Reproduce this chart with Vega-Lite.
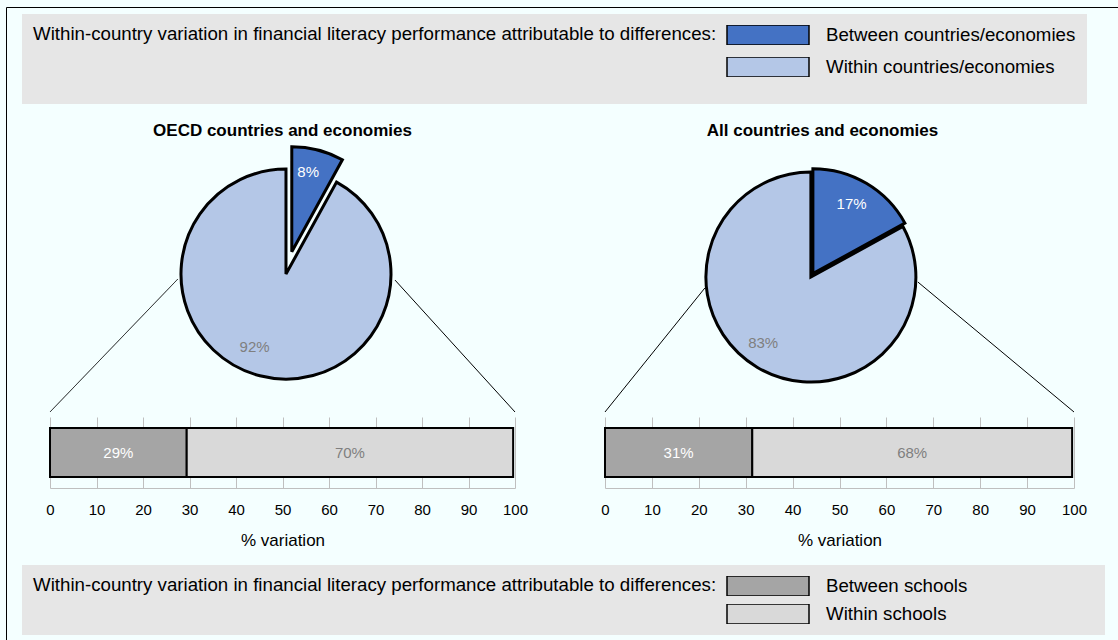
{
  "$schema": "https://vega.github.io/schema/vega-lite/v6.json",
  "background": "#F4FFFF",
  "padding": {"left": 5, "top": 6, "right": 0, "bottom": 0},
  "autosize": {"type": "pad"},
  "bounds": "flush",
  "columns": 2,
  "spacing": {"row": 5, "column": 90},
  "datasets": {
    "pies": [
      {"panel": "OECD", "group": "Between countries/economies", "share": 0.08},
      {"panel": "OECD", "group": "Within countries/economies", "share": 0.92},
      {"panel": "All", "group": "Between countries/economies", "share": 0.17},
      {"panel": "All", "group": "Within countries/economies", "share": 0.83}
    ],
    "bars": [
      {"panel": "OECD", "group": "Between schools", "share": 0.294},
      {"panel": "OECD", "group": "Within schools", "share": 0.702},
      {"panel": "All", "group": "Between schools", "share": 0.314},
      {"panel": "All", "group": "Within schools", "share": 0.682}
    ]
  },
  "concat": [
    {
      "width": 465,
      "height": 272,
      "title": {"text": "OECD countries and economies", "fontSize": 17, "fontWeight": "bold", "color": "black", "baseline": "bottom", "offset": -17, "anchor": "middle", "font": "Liberation Sans"},
      "data": {"name": "pies"},
      "layer": [
        {
          "data": {"values": [{}]},
          "mark": {"type": "rule", "color": "black", "strokeWidth": 1},
          "encoding": {
            "x": {"datum": 27.5, "type": "quantitative", "scale": {"domain": [0, 100]}, "axis": null},
            "y": {"datum": 48.9, "type": "quantitative", "scale": {"domain": [0, 100]}, "axis": null},
            "x2": {"datum": 0},
            "y2": {"datum": 0},
            "strokeDash": {"datum": "frame", "type": "nominal",
              "legend": {"orient": "none", "legendX": -44, "legendY": -133, "title": null, "padding": 700, "strokeColor": "black", "labelExpr": "''", "symbolOpacity": 0, "symbolStrokeWidth": 0,
                "encode": {"legend": {"update": {"strokeWidth": {"value": 2}}}}}}
          }
        },
        {
          "data": {"values": [{}]},
          "mark": {"type": "rule", "color": "black", "strokeWidth": 1},
          "encoding": {
            "x": {"datum": 74.2, "type": "quantitative", "axis": null},
            "y": {"datum": 48.5, "type": "quantitative", "axis": null},
            "x2": {"datum": 100},
            "y2": {"datum": 0}
          }
        },
        {
          "transform": [{"filter": "datum.panel === 'OECD'"}],
          "mark": {"type": "arc", "radius": 105, "stroke": "black", "strokeWidth": 3},
          "encoding": {
            "x": {"datum": 50.75, "type": "quantitative", "axis": null},
            "y": {"datum": 50.7, "type": "quantitative", "axis": null},
            "theta": {"field": "share", "type": "quantitative", "stack": true, "scale": {"domain": [0, 1]}},
            "order": {"field": "group"},
            "color": {
              "field": "group", "type": "nominal",
              "scale": {"domain": ["Between countries/economies", "Within countries/economies"], "range": ["#4472C4", "#B4C7E7"]},
              "legend": {"orient": "none", "legendX": -28, "legendY": -126, "direction": "vertical",
                "title": ["Within-country variation in financial literacy performance attributable to differences:", " "],
                "titleOrient": "left", "titleAnchor": "start", "titleBaseline": "top", "titleLineHeight": 49,
                "titleFontSize": 18.7, "titleFontWeight": "normal", "titleColor": "black", "titleLimit": 2000, "titlePadding": 9, "titleFont": "Liberation Sans",
                "labelFontSize": 18.7, "labelColor": "black", "labelLimit": 2000, "labelOffset": 16, "labelFont": "Liberation Sans",
                "symbolType": "M-1,-0.244H1V0.244H-1Z", "symbolSize": 6724, "symbolStrokeColor": "black", "symbolStrokeWidth": 1.5, "symbolOpacity": 1,
                "clipHeight": 20, "rowPadding": 12, "padding": 11, "fillColor": "#E6E6E6"}
            },
            "opacity": {"condition": {"test": "datum.group === 'Between countries/economies'", "value": 0}, "value": 1}
          }
        },
        {
          "transform": [{"filter": "datum.panel === 'OECD'"}],
          "mark": {"type": "arc", "radius": 105, "stroke": "black", "strokeWidth": 3, "xOffset": 5.8, "yOffset": -22.3},
          "encoding": {
            "x": {"datum": 50.75, "type": "quantitative", "axis": null},
            "y": {"datum": 50.7, "type": "quantitative", "axis": null},
            "theta": {"field": "share", "type": "quantitative", "stack": true},
            "order": {"field": "group"},
            "color": {"field": "group", "type": "nominal"},
            "opacity": {"condition": {"test": "datum.group === 'Between countries/economies'", "value": 1}, "value": 0}
          }
        },
        {
          "transform": [{"filter": "datum.panel === 'OECD'"}],
          "mark": {"type": "text", "radius": 82, "fontSize": 15, "dx": -11, "dy": -7, "font": "Liberation Sans"},
          "encoding": {
            "x": {"datum": 50.75, "type": "quantitative", "axis": null},
            "y": {"datum": 50.7, "type": "quantitative", "axis": null},
            "theta": {"field": "share", "type": "quantitative", "stack": true},
            "order": {"field": "group"},
            "text": {"field": "share", "format": ".0%"},
            "color": {"value": "#7F7F7F"},
            "opacity": {"condition": {"test": "datum.group === 'Between countries/economies'", "value": 0}, "value": 1}
          }
        },
        {
          "transform": [{"filter": "datum.panel === 'OECD'"}],
          "mark": {"type": "text", "radius": 82, "fontSize": 15, "dx": 1.8, "dy": -22.3, "font": "Liberation Sans"},
          "encoding": {
            "x": {"datum": 50.75, "type": "quantitative", "axis": null},
            "y": {"datum": 50.7, "type": "quantitative", "axis": null},
            "theta": {"field": "share", "type": "quantitative", "stack": true},
            "order": {"field": "group"},
            "text": {"field": "share", "format": ".0%"},
            "color": {"value": "white"},
            "opacity": {"condition": {"test": "datum.group === 'Between countries/economies'", "value": 1}, "value": 0}
          }
        }
      ]
    },
    {
      "width": 469,
      "height": 272,
      "title": {"text": "All countries and economies", "fontSize": 17, "fontWeight": "bold", "color": "black", "baseline": "bottom", "offset": -17, "anchor": "middle", "dx": -17, "font": "Liberation Sans"},
      "data": {"name": "pies"},
      "layer": [
        {
          "data": {"values": [{}]},
          "mark": {"type": "rule", "color": "black", "strokeWidth": 1},
          "encoding": {
            "x": {"datum": 21.3, "type": "quantitative", "scale": {"domain": [0, 100]}, "axis": null},
            "y": {"datum": 45.6, "type": "quantitative", "scale": {"domain": [0, 100]}, "axis": null},
            "x2": {"datum": 0},
            "y2": {"datum": 0}
          }
        },
        {
          "data": {"values": [{}]},
          "mark": {"type": "rule", "color": "black", "strokeWidth": 1},
          "encoding": {
            "x": {"datum": 66.7, "type": "quantitative", "axis": null},
            "y": {"datum": 47.8, "type": "quantitative", "axis": null},
            "x2": {"datum": 100},
            "y2": {"datum": 0}
          }
        },
        {
          "transform": [{"filter": "datum.panel === 'All'"}],
          "mark": {"type": "arc", "radius": 105, "stroke": "black", "strokeWidth": 3},
          "encoding": {
            "x": {"datum": 43.9, "type": "quantitative", "axis": null},
            "y": {"datum": 49.6, "type": "quantitative", "axis": null},
            "theta": {"field": "share", "type": "quantitative", "stack": true, "scale": {"domain": [0, 1]}},
            "order": {"field": "group"},
            "color": {"field": "group", "type": "nominal"},
            "opacity": {"condition": {"test": "datum.group === 'Between countries/economies'", "value": 0}, "value": 1}
          }
        },
        {
          "transform": [{"filter": "datum.panel === 'All'"}],
          "mark": {"type": "arc", "radius": 105, "stroke": "black", "strokeWidth": 3, "xOffset": 2, "yOffset": -3.4},
          "encoding": {
            "x": {"datum": 43.9, "type": "quantitative", "axis": null},
            "y": {"datum": 49.6, "type": "quantitative", "axis": null},
            "theta": {"field": "share", "type": "quantitative", "stack": true},
            "order": {"field": "group"},
            "color": {"field": "group", "type": "nominal"},
            "opacity": {"condition": {"test": "datum.group === 'Between countries/economies'", "value": 1}, "value": 0}
          }
        },
        {
          "transform": [{"filter": "datum.panel === 'All'"}],
          "mark": {"type": "text", "radius": 82, "fontSize": 15, "dx": -6, "dy": -5, "font": "Liberation Sans"},
          "encoding": {
            "x": {"datum": 43.9, "type": "quantitative", "axis": null},
            "y": {"datum": 49.6, "type": "quantitative", "axis": null},
            "theta": {"field": "share", "type": "quantitative", "stack": true},
            "order": {"field": "group"},
            "text": {"field": "share", "format": ".0%"},
            "color": {"value": "#7F7F7F"},
            "opacity": {"condition": {"test": "datum.group === 'Between countries/economies'", "value": 0}, "value": 1}
          }
        },
        {
          "transform": [{"filter": "datum.panel === 'All'"}],
          "mark": {"type": "text", "radius": 82, "fontSize": 15, "dx": -1, "dy": -2.4, "font": "Liberation Sans"},
          "encoding": {
            "x": {"datum": 43.9, "type": "quantitative", "axis": null},
            "y": {"datum": 49.6, "type": "quantitative", "axis": null},
            "theta": {"field": "share", "type": "quantitative", "stack": true},
            "order": {"field": "group"},
            "text": {"field": "share", "format": ".0%"},
            "color": {"value": "white"},
            "opacity": {"condition": {"test": "datum.group === 'Between countries/economies'", "value": 1}, "value": 0}
          }
        }
      ]
    },
    {
      "width": 465,
      "height": 71,
      "data": {"name": "bars"},
      "transform": [{"filter": "datum.panel === 'OECD'"}],
      "layer": [
        {
          "mark": {"type": "bar", "height": 49, "stroke": "black", "strokeWidth": 2},
          "encoding": {
            "x": {"field": "share", "type": "quantitative", "stack": "zero", "scale": {"domain": [0, 1], "nice": false},
              "axis": {"values": [0, 0.1, 0.2, 0.3, 0.4, 0.5, 0.6, 0.7, 0.8, 0.9, 1], "labelExpr": "round(datum.value*100)", "grid": true, "gridColor": "#BFBFBF", "gridWidth": 1, "domainColor": "#BFBFBF", "domainWidth": 1, "ticks": false, "labelFontSize": 15, "labelColor": "black", "labelPadding": 14, "labelFlush": false, "labelFont": "Liberation Sans", "title": "% variation", "titleFontSize": 17, "titleFontWeight": "normal", "titleColor": "black", "titlePadding": 15, "titleFont": "Liberation Sans"}},
            "order": {"field": "group"},
            "fill": {
              "field": "group", "type": "nominal",
              "scale": {"domain": ["Between schools", "Within schools"], "range": ["#A5A5A5", "#D9D9D9"]},
              "legend": {"orient": "none", "legendX": -28, "legendY": 425, "direction": "vertical",
                "title": "Within-country variation in financial literacy performance attributable to differences:",
                "titleOrient": "left", "titleAnchor": "start", "titleBaseline": "top",
                "titleFontSize": 18.7, "titleFontWeight": "normal", "titleColor": "black", "titleLimit": 2000, "titlePadding": 9, "titleFont": "Liberation Sans",
                "labelFontSize": 18.7, "labelColor": "black", "labelLimit": 2000, "labelOffset": 16, "labelFont": "Liberation Sans",
                "labelExpr": "datum.label + '\u2800\u2800\u2800\u2800\u2800\u2800\u2800\u2800\u2800'",
                "symbolType": "M-1,-0.244H1V0.244H-1Z", "symbolSize": 6724, "symbolStrokeColor": "black", "symbolStrokeWidth": 1.5, "symbolOpacity": 1,
                "clipHeight": 20, "rowPadding": 8, "padding": 11, "fillColor": "#E6E6E6"}
            }
          }
        },
        {
          "mark": {"type": "text", "fontSize": 15, "font": "Liberation Sans"},
          "encoding": {
            "x": {"field": "share", "type": "quantitative", "stack": "zero", "bandPosition": 0.5},
            "order": {"field": "group"},
            "text": {"field": "share", "format": ".0%"},
            "color": {"condition": {"test": "datum.group === 'Between schools'", "value": "white"}, "value": "#7F7F7F"}
          }
        }
      ]
    },
    {
      "width": 469,
      "height": 71,
      "data": {"name": "bars"},
      "transform": [{"filter": "datum.panel === 'All'"}],
      "layer": [
        {
          "mark": {"type": "bar", "height": 49, "stroke": "black", "strokeWidth": 2},
          "encoding": {
            "x": {"field": "share", "type": "quantitative", "stack": "zero", "scale": {"domain": [0, 1], "nice": false},
              "axis": {"values": [0, 0.1, 0.2, 0.3, 0.4, 0.5, 0.6, 0.7, 0.8, 0.9, 1], "labelExpr": "round(datum.value*100)", "grid": true, "gridColor": "#BFBFBF", "gridWidth": 1, "domainColor": "#BFBFBF", "domainWidth": 1, "ticks": false, "labelFontSize": 15, "labelColor": "black", "labelPadding": 14, "labelFlush": false, "labelFont": "Liberation Sans", "title": "% variation", "titleFontSize": 17, "titleFontWeight": "normal", "titleColor": "black", "titlePadding": 15, "titleFont": "Liberation Sans"}},
            "order": {"field": "group"},
            "fill": {"field": "group", "type": "nominal"}
          }
        },
        {
          "mark": {"type": "text", "fontSize": 15, "font": "Liberation Sans"},
          "encoding": {
            "x": {"field": "share", "type": "quantitative", "stack": "zero", "bandPosition": 0.5},
            "order": {"field": "group"},
            "text": {"field": "share", "format": ".0%"},
            "color": {"condition": {"test": "datum.group === 'Between schools'", "value": "white"}, "value": "#7F7F7F"}
          }
        }
      ]
    }
  ],
  "config": {
    "view": {"stroke": null},
    "font": "Liberation Sans"
  }
}
